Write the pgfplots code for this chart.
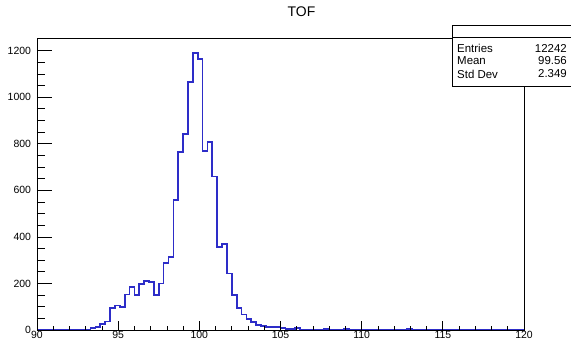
\documentclass[border=0pt]{standalone}
\usepackage{fontspec}
\setmainfont{Liberation Sans}
\usepackage{pgfplots}
\pgfplotsset{compat=1.18}
\definecolor{histblue}{RGB}{45,45,200}
\begin{document}
\begin{tikzpicture}[x=1bp,y=1bp]
\useasboundingbox (-37,-15) rectangle (534,330);
\begin{axis}[
  at={(0,0)}, anchor=south west,
  scale only axis, width=487bp, height=292bp,
  xmin=90, xmax=120, ymin=0, ymax=1254,
  axis on top,
  tick pos=left, tick align=inside,
  xtick={90,95,...,120}, minor x tick num=4,
  ytick=\empty,
  major tick length=9bp, minor tick length=4.5bp,
  axis line style={line width=0.7bp},
  every tick/.style={black, line width=0.7bp},
  tick label style={font=\fontsize{10.5}{12}\selectfont},
  xticklabel style={yshift=2bp},
  /pgf/number format/assume math mode=true,
  /pgf/number format/1000 sep={},
]
\addplot[const plot mark left, histblue, line width=1.7bp, mark=none] coordinates {
(90,0) (93.3,10) (93.6,12) (93.9,27) (94.2,37) (94.5,95) (94.8,105) (95.1,100)
(95.4,153) (95.7,186) (96.0,150) (96.3,198) (96.6,210) (96.9,205) (97.2,150)
(97.5,200) (97.8,289) (98.1,313) (98.4,558) (98.7,763) (99.0,842) (99.3,1064)
(99.6,1191) (99.9,1163) (100.2,769) (100.5,806) (100.8,659) (101.1,355) (101.4,368)
(101.7,243) (102.0,150) (102.3,94) (102.6,67) (102.9,46) (103.2,33) (103.5,21)
(103.8,18) (104.1,14) (104.4,14) (104.7,14) (105.0,10) (105.3,5) (105.6,4)
(105.9,8) (106.2,2) (106.5,2) (106.8,1) (107.1,0) (107.4,1) (107.7,3) (108.0,1)
(108.3,0) (108.9,3) (109.2,1) (109.5,1) (109.8,1) (110.1,0) (111.0,1) (111.3,1)
(111.6,1) (111.9,1) (112.2,1) (112.5,1) (112.8,3) (113.1,0) (113.4,1) (113.7,1)
(114.0,0) (120,0)
};
\end{axis}
\begin{axis}[
  at={(0,0)}, anchor=south west,
  scale only axis, width=487bp, height=292bp,
  xmin=90, xmax=120, ymin=0, ymax=1254,
  axis on top,
  tick pos=left, tick align=inside,
  xtick=\empty,
  ytick={0,200,...,1200}, minor y tick num=3,
  major tick length=15bp, minor tick length=8bp,
  axis line style={line width=0.7bp},
  every tick/.style={black, line width=0.7bp},
  tick label style={font=\fontsize{10.5}{12}\selectfont},
  yticklabel style={xshift=-2.5bp},
  /pgf/number format/assume math mode=true,
  /pgf/number format/1000 sep={},
]
\end{axis}
\node[font=\fontsize{14}{16}\selectfont] at (264.5,318) {TOF};
\fill[white] (415,244) rectangle (537,305);
\draw[line width=0.7bp] (415,244) rectangle (537,305);
\draw[line width=0.7bp] (415,293) -- (537,293);
\begin{scope}[every node/.style={font=\fontsize{11.5}{13}\selectfont, inner sep=0pt}]
\node[anchor=west] at (420,282) {Entries};
\node[anchor=west] at (420,269) {Mean};
\node[anchor=west] at (420,256) {Std Dev};
\node[anchor=east] at (530,282) {12242};
\node[anchor=east] at (530,269) {99.56};
\node[anchor=east] at (530,256) {2.349};
\end{scope}
\end{tikzpicture}
\end{document}
